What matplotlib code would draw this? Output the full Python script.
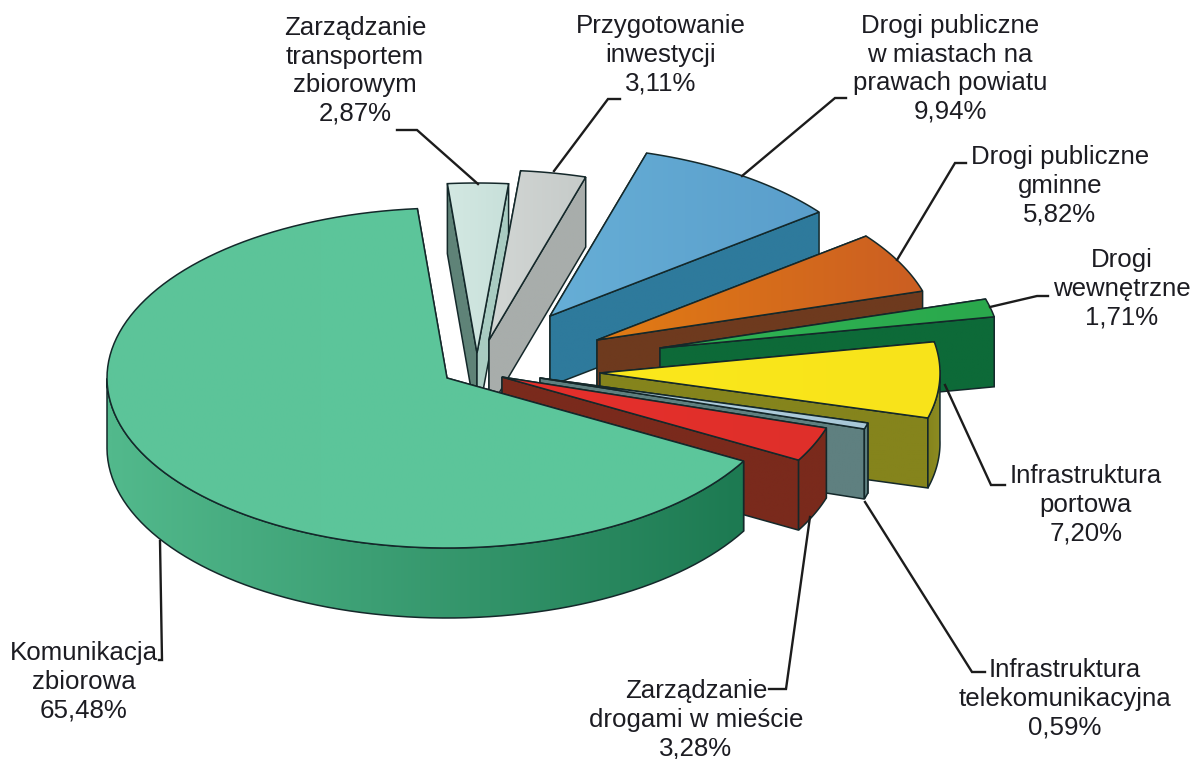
import numpy as np
import matplotlib
matplotlib.use('Agg')
import matplotlib.pyplot as plt
from matplotlib.colors import to_rgb
from matplotlib.patches import Polygon

plt.rcParams['font.family'] = ['Liberation Sans', 'DejaVu Sans']

# values, clockwise from the top of the pie
names = ['Zarządzanie\ntransportem\nzbiorowym', 'Przygotowanie\ninwestycji',
         'Drogi publiczne\nw miastach na\nprawach powiatu', 'Drogi publiczne\ngminne',
         'Drogi\nwewnętrzne', 'Infrastruktura\nportowa',
         'Infrastruktura\ntelekomunikacyjna', 'Zarządzanie\ndrogami w mieście',
         'Komunikacja\nzbiorowa']
shares = [2.87, 3.11, 9.94, 5.82, 1.71, 7.20, 0.59, 3.28, 65.48]

# layout of the exploded slices, in pixels
apex_x = [477, 489, 550, 597, 660, 600, 540, 502, 447]
apex_y = [353, 340, 316, 340, 348, 373, 378, 377, 378]
radius_x, radius_y, depth = 340, 170, 70
start_angle = 95

# colours
top_left = ['#d3e8e2', '#d2d6d4', '#66aed6', '#e27c14', '#2fb455', '#fbe81c', '#b8d4e2', '#e6302c', '#5cc499']
top_right = ['#c8e0da', '#c6cbc9', '#5a9ecb', '#cb5e22', '#2aa84c', '#f8e31a', '#a8c8d8', '#df2f2a', '#5cc79c']
wall_ccw = ['#5f8378', '#a8adab', '#2e7a9c', '#6e3a1e', '#0d6a38', '#85841c', '#5f8080', '#7a2a1c', '#1d7a52']
wall_cw = ['#a9ccc2', '#a8adab', '#2e7a9c', '#6e3a1e', '#0d6a38', '#85841c', '#5f8080', '#7a2a1c', '#1d7a52']
arc_left = ['#5f8378', '#a8adab', '#2e7a9c', '#6e3a1e', '#0d6a38', '#85841c', '#5f8080', '#7a2a1c', '#52b98c']
arc_right = ['#a9ccc2', '#a8adab', '#2e7a9c', '#6e3a1e', '#0d6a38', '#8d8c22', '#5f8080', '#7a2a1c', '#1d7a52']
edge = '#14282a'

# label centres and their leader lines
label_x = [355, 661, 950, 1060, 1122, 1086, 1065, 696, 84]
label_y = [71, 55, 69, 186, 289, 505, 699, 720, 682]
leaders = [[(397, 130), (417, 130), (478, 184)],
           [(620, 99), (608, 99), (554, 171)],
           [(846, 98), (835, 98), (742, 176)],
           [(966, 163), (955, 163), (897, 260)],
           [(1048, 296), (1037, 296), (990, 307)],
           [(1005, 485), (991, 485), (945, 385)],
           [(985, 672), (972, 672), (865, 502)],
           [(769, 689), (786, 689), (810, 517)],
           [(160, 541), (162, 660), (159, 660)]]


def face(ax, pts, c1, c2):
    pts = np.asarray(pts)
    x0, x1 = pts[:, 0].min(), pts[:, 0].max()
    y0, y1 = pts[:, 1].min(), pts[:, 1].max()
    ramp = np.linspace(to_rgb(c1), to_rgb(c2), 64)[None, :, :]
    poly = Polygon(pts, closed=True, fc='none', ec=edge, lw=1.1, zorder=face.z + 1)
    ax.add_patch(poly)
    im = ax.imshow(ramp, extent=[x0, max(x1, x0 + 1), y1, y0], aspect='auto',
                   interpolation='bilinear', zorder=face.z)
    im.set_clip_path(poly)
    face.z += 2


face.z = 1

fig = plt.figure(figsize=(11.95, 7.59), dpi=100)
ax = fig.add_axes([0, 0, 1, 1])

angle = start_angle
for i, share in enumerate(shares):
    sweep = share / sum(shares) * 360
    # the first slices run clockwise from start_angle
    th = np.radians(np.linspace(angle, angle - sweep, 120))
    angle -= sweep
    cx, cy = apex_x[i], apex_y[i]
    px = cx + radius_x * np.cos(th)
    py = cy - radius_y * np.sin(th)
    arc = np.column_stack([px, py])
    low = arc + [0, depth]
    apex = np.array([cx, cy])

    face(ax, [apex, arc[0], low[0], apex + [0, depth]], wall_ccw[i], wall_ccw[i])
    face(ax, [apex, arc[-1], low[-1], apex + [0, depth]], wall_cw[i], wall_cw[i])
    # for the big slice only the front half of the rim shows
    front = np.sin(th) < 0.02
    if front.sum() > 1:
        a, b = arc[front], low[front]
        # left-to-right order so the colour ramp reads along x
        face(ax, np.vstack([a, b[::-1]]), arc_left[i], arc_right[i])
    face(ax, np.vstack([apex, arc]), top_left[i], top_right[i])

for i, share in enumerate(shares):
    xs, ys = zip(*leaders[i])
    ax.plot(xs, ys, color='#1c1c1c', lw=1.7, solid_joinstyle='miter', zorder=500)
    txt = names[i] + '\n' + f'{share:.2f}'.replace('.', ',') + '%'
    ax.text(label_x[i], label_y[i], txt, ha='center', va='center', fontsize=18.6,
            color='#1c1c22', linespacing=1.24, zorder=510)

ax.set_xlim(0, 1195)
ax.set_ylim(759, 0)
ax.axis('off')
fig.savefig('out.png', dpi=100)
